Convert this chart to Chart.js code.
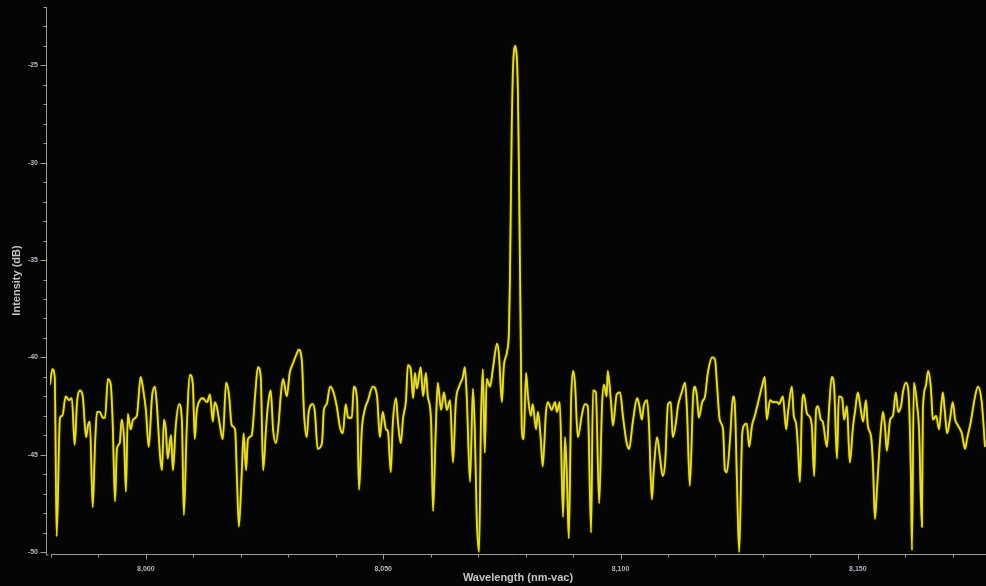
<!DOCTYPE html>
<html>
<head>
<meta charset="utf-8">
<script src="https://cdn.jsdelivr.net/npm/chart.js@4/dist/chart.umd.min.js"></script>
<style>
  html, body { margin: 0; padding: 0; background: #050505; }
  #wrap { width: 986px; height: 586px; position: relative; }
  canvas { display: block; }
</style>
</head>
<body>
<div id="wrap"><canvas id="c" width="986" height="586"></canvas></div>
<script>
// Wavelength (nm-vac) samples
const wavelength = [
  7979.8, 7980.3, 7980.8, 7981.2, 7981.9, 7982.4, 7983.1, 7983.8, 7984.4, 7985.0,
  7985.5, 7986.1, 7986.7, 7987.4, 7987.8, 7988.2, 7988.8, 7989.3, 7989.7, 7990.3,
  7990.9, 7991.4, 7992.0, 7992.6, 7993.0, 7993.5, 7993.9, 7994.5, 7994.9, 7995.4,
  7995.8, 7996.2, 7996.8, 7997.3, 7998.1, 7998.9, 7999.4, 8000.0, 8000.6, 8001.3,
  8001.9, 8002.3, 8003.0, 8003.4, 8003.8, 8004.2, 8004.6, 8005.3, 8005.7, 8006.3,
  8007.0, 8007.6, 8008.0, 8008.6, 8009.3, 8009.9, 8010.3, 8010.7, 8011.4, 8012.0,
  8012.9, 8013.5, 8014.1, 8014.5, 8015.0, 8015.6, 8016.2, 8016.9, 8017.5, 8018.1,
  8018.8, 8019.2, 8019.6, 8020.2, 8020.6, 8021.1, 8021.5, 8022.3, 8023.0, 8023.6,
  8024.2, 8024.7, 8025.3, 8025.7, 8026.3, 8026.8, 8027.4, 8028.0, 8028.4, 8028.9,
  8029.7, 8030.3, 8031.0, 8031.8, 8032.2, 8032.9, 8033.3, 8033.9, 8034.3, 8035.2,
  8035.6, 8036.2, 8037.1, 8037.5, 8038.1, 8038.8, 8039.4, 8040.2, 8040.9, 8041.5,
  8042.1, 8042.6, 8043.4, 8043.8, 8044.5, 8044.9, 8045.5, 8046.1, 8046.8, 8047.8,
  8048.7, 8049.3, 8049.9, 8050.6, 8051.0, 8051.6, 8052.0, 8052.7, 8053.1, 8053.7,
  8054.2, 8054.8, 8055.2, 8055.8, 8056.3, 8056.7, 8057.1, 8057.9, 8058.4, 8059.0,
  8059.4, 8060.1, 8060.5, 8061.1, 8061.5, 8062.2, 8062.8, 8063.4, 8064.1, 8064.7,
  8065.3, 8066.0, 8066.8, 8067.2, 8067.6, 8068.3, 8068.9, 8069.3, 8069.7, 8070.2,
  8070.6, 8071.0, 8071.4, 8071.8, 8072.5, 8073.1, 8074.0, 8074.4, 8075.0, 8075.4,
  8076.1, 8076.5, 8076.7, 8076.9, 8077.1, 8077.3, 8077.5, 8077.8, 8078.0, 8078.2,
  8078.4, 8078.6, 8078.8, 8079.0, 8079.2, 8079.6, 8080.1, 8080.5, 8081.1, 8081.5,
  8082.2, 8082.6, 8083.2, 8083.6, 8084.3, 8084.7, 8085.5, 8086.2, 8086.6, 8087.2,
  8087.9, 8088.3, 8088.7, 8089.1, 8089.6, 8090.0, 8090.4, 8091.0, 8091.9, 8092.5,
  8093.1, 8093.8, 8094.2, 8094.8, 8095.5, 8096.1, 8096.5, 8097.1, 8097.3, 8098.0,
  8098.4, 8099.2, 8099.9, 8100.5, 8101.3, 8101.8, 8102.6, 8103.5, 8103.9, 8104.5,
  8104.9, 8105.6, 8106.0, 8106.6, 8107.0, 8107.7, 8108.3, 8108.9, 8109.4, 8110.0,
  8110.6, 8111.0, 8111.7, 8112.1, 8112.9, 8113.6, 8114.0, 8114.6, 8115.3, 8115.7,
  8116.1, 8116.5, 8117.2, 8117.8, 8118.4, 8119.3, 8119.9, 8120.3, 8120.9, 8121.6,
  8122.0, 8122.4, 8123.1, 8123.7, 8124.1, 8124.5, 8125.0, 8125.6, 8126.0, 8126.6,
  8127.1, 8127.7, 8128.3, 8129.0, 8129.8, 8130.4, 8130.8, 8131.5, 8132.1, 8133.0,
  8133.4, 8134.2, 8134.9, 8135.3, 8136.1, 8136.5, 8137.0, 8137.4, 8137.8, 8138.2,
  8138.6, 8139.3, 8139.7, 8140.3, 8140.8, 8141.2, 8141.6, 8142.2, 8142.6, 8143.5,
  8143.9, 8144.5, 8145.0, 8145.6, 8146.0, 8146.7, 8147.1, 8147.7, 8148.3, 8149.0,
  8149.4, 8150.0, 8150.4, 8151.1, 8151.7, 8152.1, 8152.8, 8153.2, 8153.6, 8154.0,
  8154.7, 8155.3, 8155.7, 8156.1, 8156.8, 8157.4, 8158.0, 8158.5, 8159.1, 8159.5,
  8160.1, 8160.6, 8161.2, 8161.4, 8161.8, 8162.5, 8162.9, 8163.5, 8163.7, 8164.3,
  8164.8, 8165.4, 8165.8, 8166.5, 8167.1, 8167.9, 8168.3, 8168.8, 8169.4, 8170.0,
  8170.5, 8171.1, 8171.9, 8172.6, 8173.0, 8173.8, 8174.7, 8175.3, 8176.1, 8176.8
];

// Intensity (dB) samples
const intensity = [
  -41.4, -40.6, -41.0, -49.2, -43.1, -43.0, -42.0, -42.2, -42.1, -44.5,
  -42.3, -41.7, -42.0, -44.1, -43.5, -43.3, -47.7, -44.4, -42.8, -42.8,
  -43.1, -43.1, -41.1, -41.4, -43.3, -47.4, -44.7, -44.4, -43.2, -44.2,
  -46.9, -42.9, -43.7, -43.2, -43.0, -41.0, -41.6, -42.7, -44.6, -42.0,
  -41.5, -42.4, -45.1, -45.8, -43.2, -43.7, -45.2, -44.0, -45.8, -43.5,
  -42.4, -43.3, -48.1, -43.7, -40.9, -41.4, -44.2, -42.8, -42.2, -42.1,
  -42.3, -41.9, -43.3, -42.3, -42.6, -43.5, -44.2, -41.3, -41.9, -43.5,
  -43.7, -46.3, -48.7, -45.9, -43.9, -45.8, -44.2, -44.0, -42.0, -40.5,
  -41.0, -45.8, -43.7, -42.5, -41.7, -43.7, -44.4, -43.3, -42.0, -41.1,
  -42.0, -40.8, -40.3, -39.8, -39.6, -40.3, -42.8, -44.1, -42.8, -42.4,
  -42.8, -44.7, -44.4, -42.7, -42.4, -41.5, -41.7, -42.5, -43.6, -43.9,
  -42.4, -43.1, -43.1, -41.5, -42.2, -46.8, -43.7, -42.7, -42.2, -41.5,
  -42.0, -44.1, -42.8, -43.7, -43.8, -45.9, -43.5, -42.1, -43.3, -44.4,
  -43.1, -42.2, -40.4, -40.6, -42.1, -40.8, -41.6, -40.5, -42.0, -40.8,
  -42.0, -43.3, -47.9, -43.5, -41.3, -42.7, -41.8, -42.7, -42.2, -45.4,
  -42.3, -41.5, -41.0, -40.5, -42.0, -46.4, -41.6, -43.7, -48.2, -50.0,
  -43.2, -40.6, -44.9, -41.1, -41.5, -40.6, -39.3, -39.9, -42.3, -40.5,
  -39.7, -38.6, -36.0, -31.9, -27.8, -25.5, -24.4, -24.0, -24.2, -24.8,
  -26.7, -30.3, -35.0, -39.6, -43.7, -44.2, -40.8, -42.0, -43.0, -42.4,
  -43.7, -42.8, -44.2, -45.6, -42.8, -42.3, -42.7, -42.3, -42.8, -42.3,
  -48.2, -44.1, -46.1, -49.3, -42.2, -40.7, -41.3, -44.1, -42.9, -42.4,
  -42.5, -49.0, -41.7, -41.8, -47.5, -42.5, -41.4, -42.0, -40.7, -42.3,
  -43.5, -41.9, -41.8, -43.0, -44.4, -44.7, -43.3, -42.1, -42.4, -43.2,
  -42.5, -42.2, -43.5, -47.3, -45.8, -44.1, -45.1, -46.1, -45.4, -42.4,
  -42.3, -44.1, -43.3, -42.5, -41.8, -41.3, -42.7, -46.6, -42.0, -41.5,
  -42.0, -43.1, -42.3, -42.0, -40.8, -40.0, -40.1, -41.3, -43.2, -43.7,
  -45.8, -45.9, -44.1, -42.0, -42.5, -46.1, -50.0, -44.1, -43.5, -43.4,
  -44.6, -43.5, -43.0, -42.3, -41.5, -41.0, -43.2, -42.2, -42.3, -42.3,
  -42.4, -42.0, -43.7, -42.8, -41.5, -43.0, -43.4, -44.7, -46.4, -42.7,
  -41.9, -42.9, -43.0, -43.5, -46.1, -42.7, -42.5, -43.2, -43.3, -44.6,
  -42.8, -41.0, -41.5, -45.2, -42.0, -42.1, -43.2, -42.5, -45.4, -43.5,
  -42.8, -41.8, -42.3, -43.3, -42.2, -43.5, -44.1, -45.6, -48.3, -46.9,
  -44.2, -42.8, -43.5, -44.8, -43.2, -43.0, -41.8, -42.8, -42.5, -41.8,
  -41.3, -41.6, -46.3, -49.9, -41.3, -42.5, -43.7, -48.7, -42.7, -41.5,
  -40.7, -41.6, -43.2, -43.0, -43.7, -41.8, -42.7, -43.9, -43.2, -42.3,
  -43.2, -43.5, -43.9, -44.7, -44.2, -43.3, -42.0, -41.5, -42.3, -44.6
];

// Axis ranges and tick values
const xMin = 7979.8, xMax = 8177.0;
const yMin = -50.1, yMax = -22.0;
const xMajorTicks = [8000, 8050, 8100, 8150];
const xMinorTicks = [7980, 7990, 8000, 8010, 8020, 8030, 8040, 8050, 8060, 8070, 8080,
                     8090, 8100, 8110, 8120, 8130, 8140, 8150, 8160, 8170];
const yMajorTicks = [-50, -45, -40, -35, -30, -25];
const yMinorTicks = [-50,-49,-48,-47,-46,-45,-44,-43,-42,-41,-40,-39,-38,-37,-36,-35,
                     -34,-33,-32,-31,-30,-29,-28,-27,-26,-25,-24,-23,-22];

const points = wavelength.map((w, i) => ({ x: w, y: intensity[i] }));

const axisColor = '#9a9a9a';

const bgPlugin = {
  id: 'bg',
  beforeDraw(chart) {
    const ctx = chart.ctx;
    ctx.save();
    ctx.fillStyle = '#050505';
    ctx.fillRect(0, 0, chart.width, chart.height);
    ctx.restore();
  }
};

const glowPlugin = {
  id: 'glow',
  beforeDatasetDraw(chart) {
    const ctx = chart.ctx;
    ctx.save();
    ctx.shadowColor = 'rgba(160, 150, 20, 0.9)';
    ctx.shadowBlur = 2;
  },
  afterDatasetDraw(chart) {
    chart.ctx.restore();
  }
};

const axesPlugin = {
  id: 'axesTicks',
  afterDraw(chart) {
    const ctx = chart.ctx;
    const xs = chart.scales.x, ys = chart.scales.y;
    const area = chart.chartArea;
    const yAxisX = area.left - 3.5;
    const xAxisY = Math.round(area.bottom) + 0.5;
    ctx.save();
    ctx.strokeStyle = axisColor;
    ctx.lineWidth = 1;
    // y axis line
    ctx.beginPath();
    ctx.moveTo(yAxisX, area.top);
    ctx.lineTo(yAxisX, area.bottom + 1);
    ctx.lineTo(yAxisX + 2, area.bottom + 1);
    ctx.stroke();
    // y ticks
    yMinorTicks.forEach(v => {
      const y = Math.round(ys.getPixelForValue(v)) + 0.5;
      const len = yMajorTicks.includes(v) ? 6 : 3;
      ctx.beginPath();
      ctx.moveTo(yAxisX - len, y);
      ctx.lineTo(yAxisX, y);
      ctx.stroke();
    });
    // x axis line
    ctx.beginPath();
    ctx.moveTo(area.left + 1, xAxisY);
    ctx.lineTo(area.right, xAxisY);
    ctx.stroke();
    // x ticks
    xMinorTicks.forEach(v => {
      const x = Math.round(xs.getPixelForValue(v)) + 0.5;
      const len = xMajorTicks.includes(v) ? 5 : 3;
      ctx.beginPath();
      ctx.moveTo(x, xAxisY);
      ctx.lineTo(x, xAxisY + len);
      ctx.stroke();
    });
    ctx.restore();
  }
};

new Chart(document.getElementById('c'), {
  type: 'line',
  data: {
    datasets: [{
      data: points,
      borderColor: 'rgb(232, 222, 42)',
      borderWidth: 1.8,
      pointRadius: 0,
      cubicInterpolationMode: 'monotone',
      fill: false
    }]
  },
  options: {
    responsive: false,
    animation: false,
    events: [],
    layout: { padding: { top: 7, right: 0, left: 0, bottom: 0 } },
    plugins: { legend: { display: false }, tooltip: { enabled: false } },
    scales: {
      x: {
        type: 'linear',
        min: xMin,
        max: xMax,
        afterFit: s => { s.height = 32; s.paddingLeft = 0; s.paddingRight = 0; },
        afterBuildTicks: s => { s.ticks = xMajorTicks.map(v => ({ value: v })); },
        grid: { display: false },
        border: { display: false },
        ticks: {
          autoSkip: false,
          maxRotation: 0,
          padding: 3,
          color: '#b4b8c6',
          font: { family: 'Liberation Sans', size: 7, weight: 'bold' },
          callback: v => v.toLocaleString('en-US')
        },
        title: {
          display: true,
          text: 'Wavelength (nm-vac)',
          color: '#c4c4c4',
          font: { family: 'Liberation Sans', size: 11, weight: 'bold' },
          padding: { top: 0, bottom: 1 }
        }
      },
      y: {
        type: 'linear',
        min: yMin,
        max: yMax,
        afterFit: s => { s.width = 50; s.paddingTop = 0; s.paddingBottom = 0; },
        afterBuildTicks: s => { s.ticks = yMajorTicks.map(v => ({ value: v })); },
        grid: { display: false },
        border: { display: false },
        ticks: {
          autoSkip: false,
          padding: 4,
          color: '#b4b8c6',
          font: { family: 'Liberation Sans', size: 7, weight: 'bold' },
          callback: v => String(v)
        },
        title: {
          display: true,
          text: 'Intensity (dB)',
          color: '#c4c4c4',
          font: { family: 'Liberation Sans', size: 11, weight: 'bold' },
          padding: { top: 10, bottom: 0 }
        }
      }
    }
  },
  plugins: [bgPlugin, glowPlugin, axesPlugin]
});
</script>
</body>
</html>
